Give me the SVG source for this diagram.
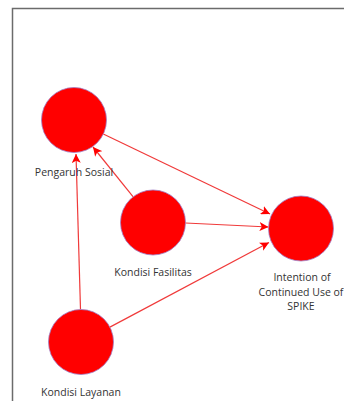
<svg xmlns="http://www.w3.org/2000/svg" width="344" height="401" viewBox="0 0 344 401">
  <style>
    .node { fill: #ff0000; stroke: #a080c8; stroke-width: 0.8; }
    .label { font-family: "Open Sans", "Noto Sans", sans-serif; font-size: 10.5px; fill: #333333; text-anchor: middle; }
    .edge { stroke: #f03a3a; stroke-width: 1.2; fill: none; marker-end: url(#arrow); }
  </style>
  <defs>
    <marker id="arrow" viewBox="0 0 10 10" refX="10" refY="5" markerWidth="9" markerHeight="9" markerUnits="userSpaceOnUse" orient="auto">
      <path d="M0,0 L10,5 L0,10 L2.5,5 Z" fill="#ff0000"/>
    </marker>
  </defs>

  <rect width="344" height="401" fill="#ffffff"/>
  <!-- panel frame -->
  <path d="M12.5,401 V8.5 H344" fill="none" stroke="#6b6b6b" stroke-width="1.5"/>

  <g id="connectors">
    <line class="edge" x1="103.3" y1="134" x2="270" y2="214"/>
    <line class="edge" x1="133.2" y1="196.8" x2="93" y2="147"/>
    <line class="edge" x1="185.5" y1="223" x2="268.5" y2="227"/>
    <line class="edge" x1="109.9" y1="327.1" x2="269" y2="242.5"/>
    <line class="edge" x1="80.5" y1="309.5" x2="76" y2="154"/>
  </g>

  <g id="pengaruh-sosial">
    <circle class="node" cx="74" cy="120" r="32.5"/>
    <text class="label" x="74" y="175.5">Pengaruh Sosial</text>
  </g>

  <g id="kondisi-fasilitas">
    <circle class="node" cx="153" cy="222.5" r="32.5"/>
    <text class="label" x="153" y="275.5">Kondisi Fasilitas</text>
  </g>

  <g id="intention">
    <circle class="node" cx="301" cy="228.5" r="32.5"/>
    <text class="label" x="302" y="281">Intention of</text>
    <text class="label" x="301" y="296">Continued Use of</text>
    <text class="label" x="301" y="310">SPIKE</text>
  </g>

  <g id="kondisi-layanan">
    <circle class="node" cx="81" cy="342" r="32.5"/>
    <text class="label" x="81" y="395.5">Kondisi Layanan</text>
  </g>
</svg>
